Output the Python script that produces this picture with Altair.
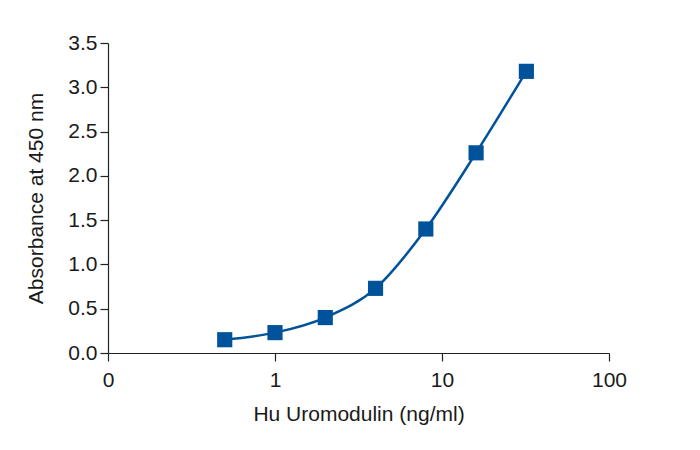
import altair as alt
import pandas as pd

conc = [0.5, 1, 2, 4, 8, 16, 32]
absorbance = [0.15, 0.23, 0.40, 0.73, 1.40, 2.26, 3.18]

df = pd.DataFrame({"conc": conc, "abs": absorbance})

FONT = "Liberation Sans, Arial, sans-serif"
COLOR = "#00529B"

x = alt.X("conc:Q",
          scale=alt.Scale(type="log", domain=[0.1, 100]),
          axis=alt.Axis(values=[0.1, 1, 10, 100],
                        labelExpr="datum.value < 0.5 ? '0' : format(datum.value, 'd')",
                        title="Hu Uromodulin (ng/ml)", grid=False, labelFlush=False,
                        tickSize=8, labelPadding=8, titlePadding=13))
y = alt.Y("abs:Q",
          scale=alt.Scale(domain=[0, 3.5]),
          axis=alt.Axis(values=[0, 0.5, 1, 1.5, 2, 2.5, 3, 3.5], format=".1f",
                        title="Absorbance at 450 nm", grid=False, labelFlush=False,
                        tickSize=8, labelPadding=3, titlePadding=21))

line = alt.Chart(df).mark_line(color=COLOR, strokeWidth=2.5, interpolate="monotone").encode(x=x, y=y)
pts = alt.Chart(df).mark_square(color=COLOR, size=230, opacity=1).encode(x=x, y=y)

chart = (line + pts).properties(
    width=501, height=310,
    autosize=alt.AutoSizeParams(type="none"),
    padding={"left": 100, "top": 35, "right": 60, "bottom": 85},
).configure_view(stroke=None).configure_axis(
    labelFont=FONT, titleFont=FONT, labelFontSize=21, titleFontSize=21,
    labelColor="#1a1a1a", titleColor="#1a1a1a", titleFontWeight="normal",
    domainColor="#222222", tickColor="#222222", domainWidth=1.2, tickWidth=1.2,
)

chart.save("out.html", embed_options={"renderer": "svg", "actions": False})
